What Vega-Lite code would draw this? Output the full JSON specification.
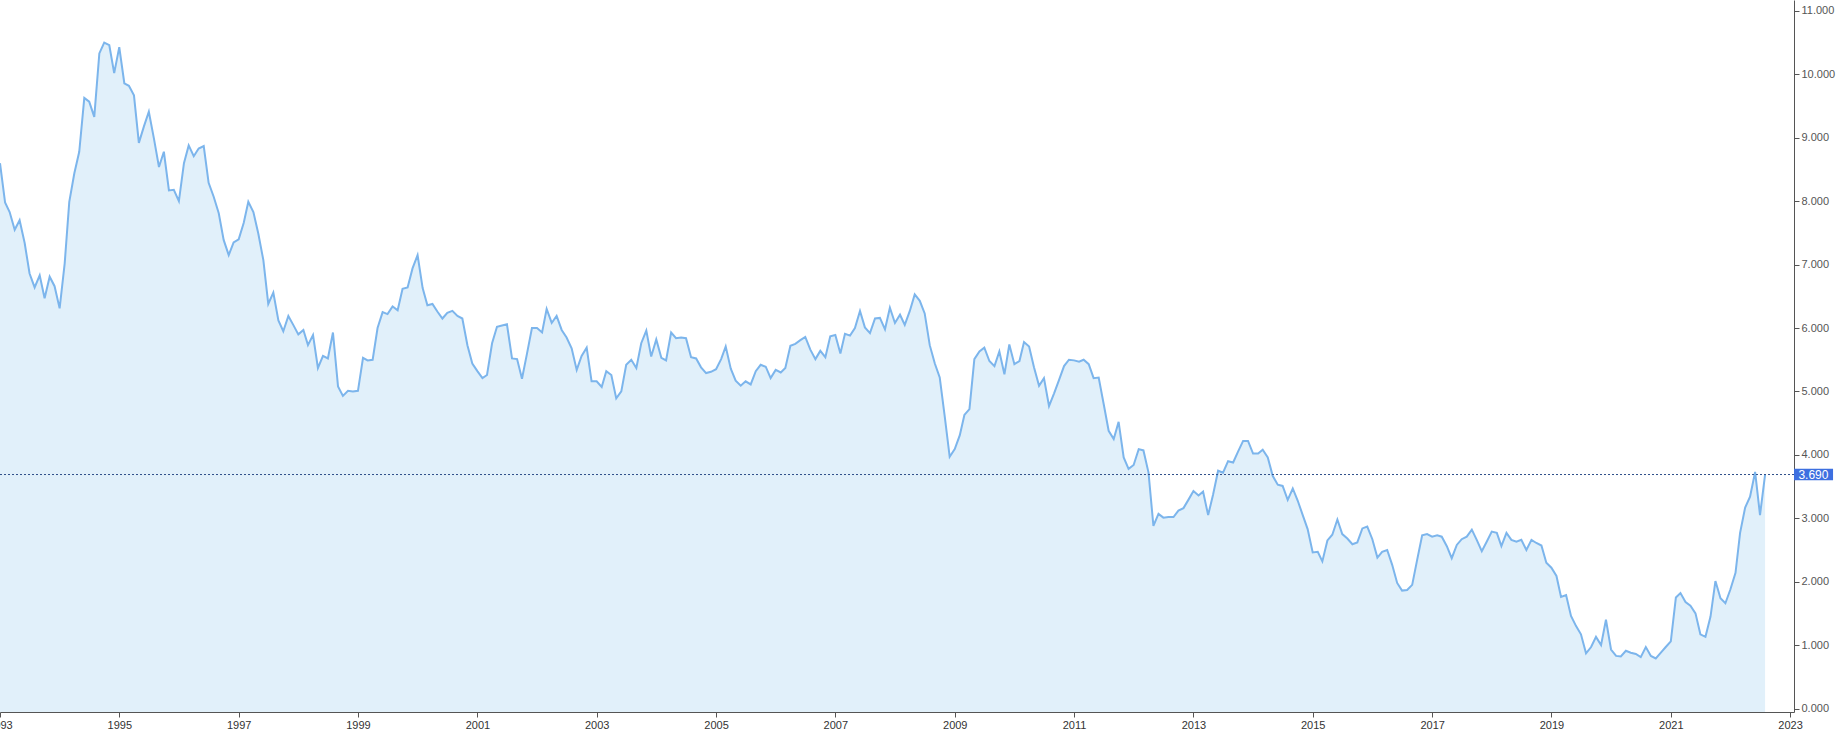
{
  "$schema": "https://vega.github.io/schema/vega-lite/v6.json",
  "width": 1794,
  "height": 712,
  "autosize": {"type": "none"},
  "padding": {"left": 0, "top": 0, "right": 43, "bottom": 20},
  "background": "white",
  "config": {"view": {"stroke": null}, "font": "Liberation Sans"},
  "datasets": {
    "series": [
      {"date":"1993-01","rate":8.60},{"date":"1993-02","rate":7.98},{"date":"1993-03","rate":7.83},{"date":"1993-04","rate":7.55},{"date":"1993-05","rate":7.70},{"date":"1993-06","rate":7.34},{"date":"1993-07","rate":6.86},{"date":"1993-08","rate":6.64},{"date":"1993-09","rate":6.83},{"date":"1993-10","rate":6.47},{"date":"1993-11","rate":6.81},{"date":"1993-12","rate":6.66},
      {"date":"1994-01","rate":6.31},{"date":"1994-02","rate":7.02},{"date":"1994-03","rate":7.99},{"date":"1994-04","rate":8.44},{"date":"1994-05","rate":8.78},{"date":"1994-06","rate":9.63},{"date":"1994-07","rate":9.57},{"date":"1994-08","rate":9.33},{"date":"1994-09","rate":10.33},{"date":"1994-10","rate":10.50},{"date":"1994-11","rate":10.46},{"date":"1994-12","rate":10.02},
      {"date":"1995-01","rate":10.43},{"date":"1995-02","rate":9.86},{"date":"1995-03","rate":9.82},{"date":"1995-04","rate":9.67},{"date":"1995-05","rate":8.92},{"date":"1995-06","rate":9.18},{"date":"1995-07","rate":9.41},{"date":"1995-08","rate":8.99},{"date":"1995-09","rate":8.54},{"date":"1995-10","rate":8.78},{"date":"1995-11","rate":8.17},{"date":"1995-12","rate":8.18},
      {"date":"1996-01","rate":8.00},{"date":"1996-02","rate":8.60},{"date":"1996-03","rate":8.88},{"date":"1996-04","rate":8.71},{"date":"1996-05","rate":8.83},{"date":"1996-06","rate":8.87},{"date":"1996-07","rate":8.29},{"date":"1996-08","rate":8.07},{"date":"1996-09","rate":7.81},{"date":"1996-10","rate":7.39},{"date":"1996-11","rate":7.15},{"date":"1996-12","rate":7.35},
      {"date":"1997-01","rate":7.40},{"date":"1997-02","rate":7.66},{"date":"1997-03","rate":7.99},{"date":"1997-04","rate":7.83},{"date":"1997-05","rate":7.49},{"date":"1997-06","rate":7.07},{"date":"1997-07","rate":6.38},{"date":"1997-08","rate":6.56},{"date":"1997-09","rate":6.12},{"date":"1997-10","rate":5.95},{"date":"1997-11","rate":6.19},{"date":"1997-12","rate":6.05},
      {"date":"1998-01","rate":5.90},{"date":"1998-02","rate":5.97},{"date":"1998-03","rate":5.73},{"date":"1998-04","rate":5.89},{"date":"1998-05","rate":5.37},{"date":"1998-06","rate":5.56},{"date":"1998-07","rate":5.52},{"date":"1998-08","rate":5.93},{"date":"1998-09","rate":5.08},{"date":"1998-10","rate":4.93},{"date":"1998-11","rate":5.01},{"date":"1998-12","rate":5.00},
      {"date":"1999-01","rate":5.01},{"date":"1999-02","rate":5.53},{"date":"1999-03","rate":5.49},{"date":"1999-04","rate":5.50},{"date":"1999-05","rate":6.00},{"date":"1999-06","rate":6.25},{"date":"1999-07","rate":6.22},{"date":"1999-08","rate":6.34},{"date":"1999-09","rate":6.28},{"date":"1999-10","rate":6.62},{"date":"1999-11","rate":6.64},{"date":"1999-12","rate":6.94},
      {"date":"2000-01","rate":7.15},{"date":"2000-02","rate":6.63},{"date":"2000-03","rate":6.36},{"date":"2000-04","rate":6.38},{"date":"2000-05","rate":6.26},{"date":"2000-06","rate":6.15},{"date":"2000-07","rate":6.24},{"date":"2000-08","rate":6.27},{"date":"2000-09","rate":6.19},{"date":"2000-10","rate":6.15},{"date":"2000-11","rate":5.73},{"date":"2000-12","rate":5.44},
      {"date":"2001-01","rate":5.32},{"date":"2001-02","rate":5.21},{"date":"2001-03","rate":5.26},{"date":"2001-04","rate":5.76},{"date":"2001-05","rate":6.02},{"date":"2001-06","rate":6.04},{"date":"2001-07","rate":6.06},{"date":"2001-08","rate":5.52},{"date":"2001-09","rate":5.51},{"date":"2001-10","rate":5.20},{"date":"2001-11","rate":5.60},{"date":"2001-12","rate":6.00},
      {"date":"2002-01","rate":6.00},{"date":"2002-02","rate":5.93},{"date":"2002-03","rate":6.30},{"date":"2002-04","rate":6.08},{"date":"2002-05","rate":6.19},{"date":"2002-06","rate":5.97},{"date":"2002-07","rate":5.85},{"date":"2002-08","rate":5.68},{"date":"2002-09","rate":5.34},{"date":"2002-10","rate":5.56},{"date":"2002-11","rate":5.69},{"date":"2002-12","rate":5.16},
      {"date":"2003-01","rate":5.16},{"date":"2003-02","rate":5.07},{"date":"2003-03","rate":5.32},{"date":"2003-04","rate":5.26},{"date":"2003-05","rate":4.89},{"date":"2003-06","rate":5.00},{"date":"2003-07","rate":5.42},{"date":"2003-08","rate":5.50},{"date":"2003-09","rate":5.37},{"date":"2003-10","rate":5.76},{"date":"2003-11","rate":5.96},{"date":"2003-12","rate":5.55},
      {"date":"2004-01","rate":5.82},{"date":"2004-02","rate":5.53},{"date":"2004-03","rate":5.49},{"date":"2004-04","rate":5.93},{"date":"2004-05","rate":5.84},{"date":"2004-06","rate":5.85},{"date":"2004-07","rate":5.84},{"date":"2004-08","rate":5.54},{"date":"2004-09","rate":5.52},{"date":"2004-10","rate":5.38},{"date":"2004-11","rate":5.29},{"date":"2004-12","rate":5.31},
      {"date":"2005-01","rate":5.35},{"date":"2005-02","rate":5.51},{"date":"2005-03","rate":5.71},{"date":"2005-04","rate":5.36},{"date":"2005-05","rate":5.17},{"date":"2005-06","rate":5.09},{"date":"2005-07","rate":5.16},{"date":"2005-08","rate":5.11},{"date":"2005-09","rate":5.32},{"date":"2005-10","rate":5.42},{"date":"2005-11","rate":5.39},{"date":"2005-12","rate":5.21},
      {"date":"2006-01","rate":5.34},{"date":"2006-02","rate":5.30},{"date":"2006-03","rate":5.37},{"date":"2006-04","rate":5.72},{"date":"2006-05","rate":5.75},{"date":"2006-06","rate":5.81},{"date":"2006-07","rate":5.86},{"date":"2006-08","rate":5.66},{"date":"2006-09","rate":5.51},{"date":"2006-10","rate":5.64},{"date":"2006-11","rate":5.54},{"date":"2006-12","rate":5.87},
      {"date":"2007-01","rate":5.89},{"date":"2007-02","rate":5.60},{"date":"2007-03","rate":5.91},{"date":"2007-04","rate":5.88},{"date":"2007-05","rate":6.00},{"date":"2007-06","rate":6.27},{"date":"2007-07","rate":6.01},{"date":"2007-08","rate":5.92},{"date":"2007-09","rate":6.15},{"date":"2007-10","rate":6.16},{"date":"2007-11","rate":5.98},{"date":"2007-12","rate":6.32},
      {"date":"2008-01","rate":6.08},{"date":"2008-02","rate":6.21},{"date":"2008-03","rate":6.05},{"date":"2008-04","rate":6.27},{"date":"2008-05","rate":6.53},{"date":"2008-06","rate":6.43},{"date":"2008-07","rate":6.23},{"date":"2008-08","rate":5.73},{"date":"2008-09","rate":5.44},{"date":"2008-10","rate":5.22},{"date":"2008-11","rate":4.60},{"date":"2008-12","rate":3.97},
      {"date":"2009-01","rate":4.09},{"date":"2009-02","rate":4.31},{"date":"2009-03","rate":4.63},{"date":"2009-04","rate":4.72},{"date":"2009-05","rate":5.51},{"date":"2009-06","rate":5.63},{"date":"2009-07","rate":5.69},{"date":"2009-08","rate":5.48},{"date":"2009-09","rate":5.40},{"date":"2009-10","rate":5.63},{"date":"2009-11","rate":5.27},{"date":"2009-12","rate":5.74},
      {"date":"2010-01","rate":5.43},{"date":"2010-02","rate":5.48},{"date":"2010-03","rate":5.78},{"date":"2010-04","rate":5.71},{"date":"2010-05","rate":5.38},{"date":"2010-06","rate":5.09},{"date":"2010-07","rate":5.21},{"date":"2010-08","rate":4.77},{"date":"2010-09","rate":4.97},{"date":"2010-10","rate":5.18},{"date":"2010-11","rate":5.40},{"date":"2010-12","rate":5.50},
      {"date":"2011-01","rate":5.49},{"date":"2011-02","rate":5.47},{"date":"2011-03","rate":5.50},{"date":"2011-04","rate":5.43},{"date":"2011-05","rate":5.21},{"date":"2011-06","rate":5.22},{"date":"2011-07","rate":4.81},{"date":"2011-08","rate":4.38},{"date":"2011-09","rate":4.25},{"date":"2011-10","rate":4.52},{"date":"2011-11","rate":3.96},{"date":"2011-12","rate":3.78},
      {"date":"2012-01","rate":3.84},{"date":"2012-02","rate":4.09},{"date":"2012-03","rate":4.07},{"date":"2012-04","rate":3.72},{"date":"2012-05","rate":2.88},{"date":"2012-06","rate":3.07},{"date":"2012-07","rate":3.01},{"date":"2012-08","rate":3.02},{"date":"2012-09","rate":3.02},{"date":"2012-10","rate":3.12},{"date":"2012-11","rate":3.16},{"date":"2012-12","rate":3.29},
      {"date":"2013-01","rate":3.43},{"date":"2013-02","rate":3.36},{"date":"2013-03","rate":3.42},{"date":"2013-04","rate":3.05},{"date":"2013-05","rate":3.37},{"date":"2013-06","rate":3.75},{"date":"2013-07","rate":3.72},{"date":"2013-08","rate":3.90},{"date":"2013-09","rate":3.88},{"date":"2013-10","rate":4.05},{"date":"2013-11","rate":4.22},{"date":"2013-12","rate":4.22},
      {"date":"2014-01","rate":4.02},{"date":"2014-02","rate":4.02},{"date":"2014-03","rate":4.08},{"date":"2014-04","rate":3.96},{"date":"2014-05","rate":3.67},{"date":"2014-06","rate":3.53},{"date":"2014-07","rate":3.51},{"date":"2014-08","rate":3.29},{"date":"2014-09","rate":3.47},{"date":"2014-10","rate":3.28},{"date":"2014-11","rate":3.05},{"date":"2014-12","rate":2.83},
      {"date":"2015-01","rate":2.46},{"date":"2015-02","rate":2.47},{"date":"2015-03","rate":2.32},{"date":"2015-04","rate":2.65},{"date":"2015-05","rate":2.74},{"date":"2015-06","rate":2.98},{"date":"2015-07","rate":2.75},{"date":"2015-08","rate":2.68},{"date":"2015-09","rate":2.59},{"date":"2015-10","rate":2.62},{"date":"2015-11","rate":2.84},{"date":"2015-12","rate":2.87},
      {"date":"2016-01","rate":2.67},{"date":"2016-02","rate":2.38},{"date":"2016-03","rate":2.47},{"date":"2016-04","rate":2.50},{"date":"2016-05","rate":2.27},{"date":"2016-06","rate":1.98},{"date":"2016-07","rate":1.86},{"date":"2016-08","rate":1.87},{"date":"2016-09","rate":1.95},{"date":"2016-10","rate":2.34},{"date":"2016-11","rate":2.73},{"date":"2016-12","rate":2.75},
      {"date":"2017-01","rate":2.71},{"date":"2017-02","rate":2.73},{"date":"2017-03","rate":2.71},{"date":"2017-04","rate":2.56},{"date":"2017-05","rate":2.37},{"date":"2017-06","rate":2.58},{"date":"2017-07","rate":2.67},{"date":"2017-08","rate":2.71},{"date":"2017-09","rate":2.82},{"date":"2017-10","rate":2.66},{"date":"2017-11","rate":2.48},{"date":"2017-12","rate":2.63},
      {"date":"2018-01","rate":2.79},{"date":"2018-02","rate":2.77},{"date":"2018-03","rate":2.56},{"date":"2018-04","rate":2.77},{"date":"2018-05","rate":2.66},{"date":"2018-06","rate":2.63},{"date":"2018-07","rate":2.66},{"date":"2018-08","rate":2.50},{"date":"2018-09","rate":2.66},{"date":"2018-10","rate":2.61},{"date":"2018-11","rate":2.57},{"date":"2018-12","rate":2.30},
      {"date":"2019-01","rate":2.22},{"date":"2019-02","rate":2.09},{"date":"2019-03","rate":1.76},{"date":"2019-04","rate":1.79},{"date":"2019-05","rate":1.46},{"date":"2019-06","rate":1.30},{"date":"2019-07","rate":1.17},{"date":"2019-08","rate":0.87},{"date":"2019-09","rate":0.97},{"date":"2019-10","rate":1.13},{"date":"2019-11","rate":1.00},{"date":"2019-12","rate":1.40},
      {"date":"2020-01","rate":0.93},{"date":"2020-02","rate":0.83},{"date":"2020-03","rate":0.82},{"date":"2020-04","rate":0.91},{"date":"2020-05","rate":0.88},{"date":"2020-06","rate":0.86},{"date":"2020-07","rate":0.81},{"date":"2020-08","rate":0.97},{"date":"2020-09","rate":0.83},{"date":"2020-10","rate":0.79},{"date":"2020-11","rate":0.88},{"date":"2020-12","rate":0.97},
      {"date":"2021-01","rate":1.06},{"date":"2021-02","rate":1.75},{"date":"2021-03","rate":1.82},{"date":"2021-04","rate":1.68},{"date":"2021-05","rate":1.62},{"date":"2021-06","rate":1.50},{"date":"2021-07","rate":1.17},{"date":"2021-08","rate":1.13},{"date":"2021-09","rate":1.45},{"date":"2021-10","rate":2.01},{"date":"2021-11","rate":1.74},{"date":"2021-12","rate":1.66},
      {"date":"2022-01","rate":1.88},{"date":"2022-02","rate":2.14},{"date":"2022-03","rate":2.77},{"date":"2022-04","rate":3.17},{"date":"2022-05","rate":3.34},{"date":"2022-06","rate":3.73},{"date":"2022-07","rate":3.05},{"date":"2022-08","rate":3.69}
    ],
    "last": [{"rate": 3.69}]
  },
  "layer": [
    {
      "data": {"name": "series"},
      "mark": {"type": "area", "color": "#e1f0fa", "line": false},
      "encoding": {
        "x": {
          "field": "date", "type": "temporal",
          "scale": {"type": "utc", "domain": [{"year": 1993, "month": 1, "date": 1, "utc": true}, {"year": 2023, "month": 1, "date": 25, "utc": true}]},
          "axis": {
            "title": null, "grid": false, "format": "%Y",
            "values": [
              {"year": 1993, "month": 1, "date": 1, "utc": true}, {"year": 1995, "month": 1, "date": 1, "utc": true},
              {"year": 1997, "month": 1, "date": 1, "utc": true}, {"year": 1999, "month": 1, "date": 1, "utc": true},
              {"year": 2001, "month": 1, "date": 1, "utc": true}, {"year": 2003, "month": 1, "date": 1, "utc": true},
              {"year": 2005, "month": 1, "date": 1, "utc": true}, {"year": 2007, "month": 1, "date": 1, "utc": true},
              {"year": 2009, "month": 1, "date": 1, "utc": true}, {"year": 2011, "month": 1, "date": 1, "utc": true},
              {"year": 2013, "month": 1, "date": 1, "utc": true}, {"year": 2015, "month": 1, "date": 1, "utc": true},
              {"year": 2017, "month": 1, "date": 1, "utc": true}, {"year": 2019, "month": 1, "date": 1, "utc": true},
              {"year": 2021, "month": 1, "date": 1, "utc": true}, {"year": 2023, "month": 1, "date": 1, "utc": true}
            ],
            "labelFont": "Liberation Sans", "labelFontSize": 11, "labelColor": "#333333",
            "tickSize": 5, "tickColor": "#555555", "domainColor": "#555555", "labelPadding": 2,
            "labelOverlap": false, "labelFlush": false
          }
        },
        "y": {
          "field": "rate", "type": "quantitative",
          "scale": {"domain": [-0.055, 11.173], "nice": false, "zero": false},
          "axis": {
            "orient": "right", "title": null, "grid": false, "format": ".3f",
            "values": [0, 0.5, 1, 1.5, 2, 2.5, 3, 3.5, 4, 4.5, 5, 5.5, 6, 6.5, 7, 7.5, 8, 8.5, 9, 9.5, 10, 10.5, 11],
            "labelFont": "Liberation Sans", "labelFontSize": 11, "labelColor": "#555555",
            "tickSize": 5, "tickColor": "#555555", "domainColor": "#555555", "labelPadding": 2,
            "labelOverlap": false, "labelFlush": false
          }
        },
        "y2": {"datum": -0.055}
      }
    },
    {
      "data": {"name": "series"},
      "mark": {"type": "line", "color": "#7cb5ec", "strokeWidth": 2},
      "encoding": {
        "x": {"field": "date", "type": "temporal"},
        "y": {"field": "rate", "type": "quantitative"}
      }
    },
    {
      "data": {"name": "last"},
      "mark": {"type": "rule", "color": "#2e4f8a", "strokeDash": [2, 2], "strokeWidth": 1},
      "encoding": {
        "y": {"field": "rate", "type": "quantitative"}
      }
    },
    {
      "data": {"name": "last"},
      "mark": {"type": "rect", "color": "#3d6fe0"},
      "encoding": {
        "x": {"datum": {"year": 2023, "month": 1, "date": 25, "utc": true}, "type": "temporal"},
        "x2": {"datum": {"year": 2023, "month": 9, "date": 21, "utc": true}},
        "y": {"datum": 3.60, "type": "quantitative"},
        "y2": {"datum": 3.78}
      }
    },
    {
      "data": {"name": "last"},
      "mark": {"type": "text", "color": "white", "fontSize": 12, "font": "Liberation Sans", "align": "center", "baseline": "middle"},
      "encoding": {
        "x": {"datum": {"year": 2023, "month": 5, "date": 24, "utc": true}, "type": "temporal"},
        "y": {"field": "rate", "type": "quantitative"},
        "text": {"field": "rate", "type": "quantitative", "format": ".3f"}
      }
    }
  ]
}
